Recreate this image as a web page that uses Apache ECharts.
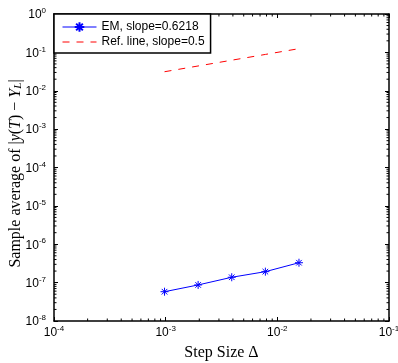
<!DOCTYPE html>
<html>
<head>
<meta charset="utf-8">
<script src="https://cdn.jsdelivr.net/npm/echarts@6/dist/echarts.min.js"></script>
<style>
html, body { margin: 0; padding: 0; background: #fff; }
#chart { width: 398px; height: 363px; }
</style>
</head>
<body>
<div id="chart"></div>
<script>
// step sizes 2^-10 .. 2^-6
const stepSizes = [0.0009765625, 0.001953125, 0.00390625, 0.0078125, 0.015625]
const emError = [5.8e-8, 8.7e-8, 1.38e-7, 1.93e-7, 3.3e-7]
const refLine = [0.0313, 0.0442, 0.0625, 0.0884, 0.125]
const seriesNames = ['EM, slope=0.6218', 'Ref. line, slope=0.5']
const xRange = [1e-4, 1e-1]
const yRange = [1e-8, 1]
const xDecades = [1e-4, 1e-3, 1e-2]
const yDecades = [1e-8, 1e-7, 1e-6, 1e-5, 1e-4, 1e-3, 1e-2, 1e-1]
const minorSteps = [2, 3, 4, 5, 6, 7, 8, 9]

const sansFont = 'Liberation Sans, Arial, sans-serif'
const serifFont = 'Liberation Serif, Times New Roman, serif'

const xMinor = []
xDecades.forEach(d => minorSteps.forEach(m => xMinor.push([d * m, 1e-4])))
const yMinor = []
yDecades.forEach(d => minorSteps.forEach(m => yMinor.push([1e-3, d * m])))

const powLabel = v => '{b|10}{s|' + Math.round(Math.log10(v)) + '}'
const powRich = {
  b: { fontSize: 12, fontFamily: sansFont, color: '#000', lineHeight: 14, padding: [5, 0, 0, 0], verticalAlign: 'bottom' },
  s: { fontSize: 8, fontFamily: sansFont, color: '#000', lineHeight: 10, verticalAlign: 'top' }
}

const tickLen = 2.5
const minorTick = isX => (params, api) => {
  const v = api.value(isX ? 0 : 1)
  const style = { stroke: '#000', lineWidth: 1 }
  let p1, p2, shapes
  if (isX) {
    p1 = api.coord([v, yRange[0]])
    p2 = api.coord([v, yRange[1]])
    shapes = [
      { x1: p1[0], y1: p1[1], x2: p1[0], y2: p1[1] - tickLen },
      { x1: p2[0], y1: p2[1], x2: p2[0], y2: p2[1] + tickLen }
    ]
  } else {
    p1 = api.coord([xRange[0], v])
    p2 = api.coord([xRange[1], v])
    shapes = [
      { x1: p1[0], y1: p1[1], x2: p1[0] + tickLen, y2: p1[1] },
      { x1: p2[0], y1: p2[1], x2: p2[0] - tickLen, y2: p2[1] }
    ]
  }
  return {
    type: 'group',
    children: shapes.map(s => ({ type: 'line', shape: s, style }))
  }
}

const axisLineStyle = { color: '#000', width: 1.5 }
const majorTick = { show: true, inside: true, length: 4, lineStyle: { color: '#000', width: 1 } }

const chart = echarts.init(document.getElementById('chart'))
chart.setOption({
  animation: false,
  grid: { left: 54, right: 9, top: 14, bottom: 42, outerBoundsMode: 'none' },
  legend: {
    data: [
      { name: seriesNames[0] },
      { name: seriesNames[1], itemStyle: { opacity: 0 } }
    ],
    orient: 'vertical',
    left: 54,
    top: 14,
    padding: [7, 6, 5, 8],
    itemWidth: 34,
    itemHeight: 12,
    itemGap: 3,
    borderColor: '#000',
    borderWidth: 1.5,
    borderRadius: 0,
    backgroundColor: '#fff',
    lineStyle: { width: 1 },
    textStyle: { fontSize: 12, fontFamily: sansFont, color: '#000' }
  },
  xAxis: [{
    type: 'log',
    min: xRange[0],
    max: xRange[1],
    splitNumber: 3,
    name: 'Step Size Δ',
    nameLocation: 'middle',
    nameGap: 24,
    nameMoveOverlap: false,
    nameTextStyle: { fontSize: 16, fontFamily: serifFont, color: '#000' },
    axisLine: { lineStyle: axisLineStyle },
    axisTick: majorTick,
    axisLabel: { formatter: powLabel, rich: powRich, margin: 4 },
    splitLine: { show: false }
  }, {
    type: 'log',
    position: 'top',
    min: xRange[0],
    max: xRange[1],
    splitNumber: 3,
    axisLine: { lineStyle: axisLineStyle },
    axisTick: majorTick,
    axisLabel: { show: false },
    splitLine: { show: false }
  }],
  yAxis: [{
    type: 'log',
    min: yRange[0],
    max: yRange[1],
    splitNumber: 8,
    name: '{t|Sample average of |}{i|y}{t|(}{i|T}{t|) − }{i|Y}{sub|L}{t||}',
    nameLocation: 'middle',
    nameGap: 30,
    nameMoveOverlap: false,
    nameRotate: 90,
    nameTextStyle: {
      padding: [0, 12, 0, 0],
      rich: {
        t: { fontSize: 16, fontFamily: serifFont, color: '#000' },
        i: { fontSize: 16, fontFamily: serifFont, fontStyle: 'italic', color: '#000' },
        sub: { fontSize: 11, fontFamily: serifFont, fontStyle: 'italic', color: '#000', verticalAlign: 'bottom', lineHeight: 12 }
      }
    },
    axisLine: { lineStyle: axisLineStyle },
    axisTick: majorTick,
    axisLabel: { formatter: powLabel, rich: powRich, margin: 8 },
    splitLine: { show: false }
  }, {
    type: 'log',
    position: 'right',
    min: yRange[0],
    max: yRange[1],
    splitNumber: 8,
    axisLine: { lineStyle: axisLineStyle },
    axisTick: majorTick,
    axisLabel: { show: false },
    splitLine: { show: false }
  }],
  series: [{
    name: seriesNames[0],
    type: 'line',
    data: stepSizes.map((x, i) => [x, emError[i]]),
    symbol: 'path://M0,-5L0,5M-5,0L5,0M-3.5,-3.5L3.5,3.5M-3.5,3.5L3.5,-3.5',
    symbolSize: 8,
    lineStyle: { color: '#0000ff', width: 1 },
    itemStyle: { color: '#0000ff', borderColor: '#0000ff', borderWidth: 1 },
    z: 3
  }, {
    name: seriesNames[1],
    type: 'line',
    data: stepSizes.map((x, i) => [x, refLine[i]]),
    symbol: 'none',
    lineStyle: { color: '#ff0000', width: 1, type: [7, 7] },
    itemStyle: { color: '#ff0000' },
    z: 3
  }, {
    type: 'custom',
    silent: true,
    clip: false,
    data: xMinor,
    renderItem: minorTick(true)
  }, {
    type: 'custom',
    silent: true,
    clip: false,
    data: yMinor,
    renderItem: minorTick(false)
  }]
})
</script>
</body>
</html>
